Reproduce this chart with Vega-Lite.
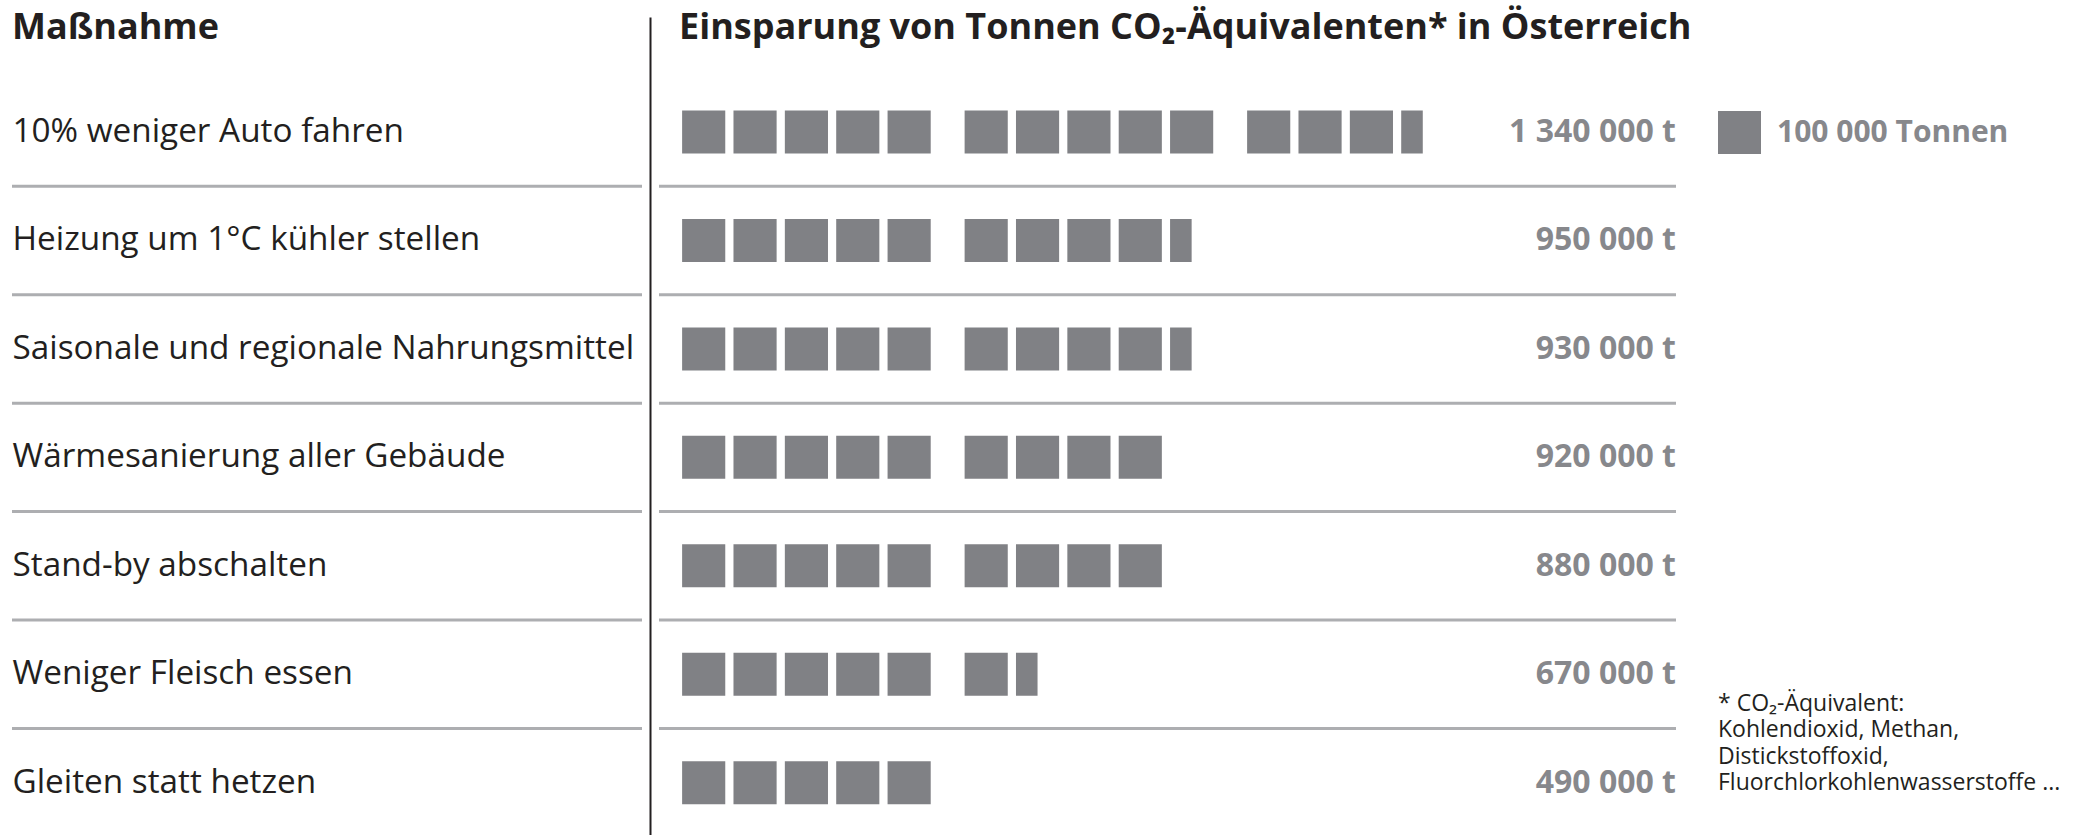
{
  "$schema": "https://vega.github.io/schema/vega-lite/v6.json",
  "background": "white",
  "padding": {"left": 10, "top": 9, "right": 0, "bottom": 0},
  "bounds": "flush",
  "spacing": 17,
  "datasets": {
    "massnahmen": [
      {"massnahme": "10% weniger Auto fahren", "tonnen": 1340000},
      {"massnahme": "Heizung um 1°C kühler stellen", "tonnen": 950000},
      {"massnahme": "Saisonale und regionale Nahrungsmittel", "tonnen": 930000},
      {"massnahme": "Wärmesanierung aller Gebäude", "tonnen": 920000},
      {"massnahme": "Stand-by abschalten", "tonnen": 880000},
      {"massnahme": "Weniger Fleisch essen", "tonnen": 670000},
      {"massnahme": "Gleiten statt hetzen", "tonnen": 490000}
    ],
    "felder": [
      {"massnahme": "10% weniger Auto fahren", "nr": 0, "anteil": 1},
      {"massnahme": "10% weniger Auto fahren", "nr": 1, "anteil": 1},
      {"massnahme": "10% weniger Auto fahren", "nr": 2, "anteil": 1},
      {"massnahme": "10% weniger Auto fahren", "nr": 3, "anteil": 1},
      {"massnahme": "10% weniger Auto fahren", "nr": 4, "anteil": 1},
      {"massnahme": "10% weniger Auto fahren", "nr": 5, "anteil": 1},
      {"massnahme": "10% weniger Auto fahren", "nr": 6, "anteil": 1},
      {"massnahme": "10% weniger Auto fahren", "nr": 7, "anteil": 1},
      {"massnahme": "10% weniger Auto fahren", "nr": 8, "anteil": 1},
      {"massnahme": "10% weniger Auto fahren", "nr": 9, "anteil": 1},
      {"massnahme": "10% weniger Auto fahren", "nr": 10, "anteil": 1},
      {"massnahme": "10% weniger Auto fahren", "nr": 11, "anteil": 1},
      {"massnahme": "10% weniger Auto fahren", "nr": 12, "anteil": 1},
      {"massnahme": "10% weniger Auto fahren", "nr": 13, "anteil": 0.5},
      {"massnahme": "Heizung um 1°C kühler stellen", "nr": 0, "anteil": 1},
      {"massnahme": "Heizung um 1°C kühler stellen", "nr": 1, "anteil": 1},
      {"massnahme": "Heizung um 1°C kühler stellen", "nr": 2, "anteil": 1},
      {"massnahme": "Heizung um 1°C kühler stellen", "nr": 3, "anteil": 1},
      {"massnahme": "Heizung um 1°C kühler stellen", "nr": 4, "anteil": 1},
      {"massnahme": "Heizung um 1°C kühler stellen", "nr": 5, "anteil": 1},
      {"massnahme": "Heizung um 1°C kühler stellen", "nr": 6, "anteil": 1},
      {"massnahme": "Heizung um 1°C kühler stellen", "nr": 7, "anteil": 1},
      {"massnahme": "Heizung um 1°C kühler stellen", "nr": 8, "anteil": 1},
      {"massnahme": "Heizung um 1°C kühler stellen", "nr": 9, "anteil": 0.5},
      {"massnahme": "Saisonale und regionale Nahrungsmittel", "nr": 0, "anteil": 1},
      {"massnahme": "Saisonale und regionale Nahrungsmittel", "nr": 1, "anteil": 1},
      {"massnahme": "Saisonale und regionale Nahrungsmittel", "nr": 2, "anteil": 1},
      {"massnahme": "Saisonale und regionale Nahrungsmittel", "nr": 3, "anteil": 1},
      {"massnahme": "Saisonale und regionale Nahrungsmittel", "nr": 4, "anteil": 1},
      {"massnahme": "Saisonale und regionale Nahrungsmittel", "nr": 5, "anteil": 1},
      {"massnahme": "Saisonale und regionale Nahrungsmittel", "nr": 6, "anteil": 1},
      {"massnahme": "Saisonale und regionale Nahrungsmittel", "nr": 7, "anteil": 1},
      {"massnahme": "Saisonale und regionale Nahrungsmittel", "nr": 8, "anteil": 1},
      {"massnahme": "Saisonale und regionale Nahrungsmittel", "nr": 9, "anteil": 0.5},
      {"massnahme": "Wärmesanierung aller Gebäude", "nr": 0, "anteil": 1},
      {"massnahme": "Wärmesanierung aller Gebäude", "nr": 1, "anteil": 1},
      {"massnahme": "Wärmesanierung aller Gebäude", "nr": 2, "anteil": 1},
      {"massnahme": "Wärmesanierung aller Gebäude", "nr": 3, "anteil": 1},
      {"massnahme": "Wärmesanierung aller Gebäude", "nr": 4, "anteil": 1},
      {"massnahme": "Wärmesanierung aller Gebäude", "nr": 5, "anteil": 1},
      {"massnahme": "Wärmesanierung aller Gebäude", "nr": 6, "anteil": 1},
      {"massnahme": "Wärmesanierung aller Gebäude", "nr": 7, "anteil": 1},
      {"massnahme": "Wärmesanierung aller Gebäude", "nr": 8, "anteil": 1},
      {"massnahme": "Stand-by abschalten", "nr": 0, "anteil": 1},
      {"massnahme": "Stand-by abschalten", "nr": 1, "anteil": 1},
      {"massnahme": "Stand-by abschalten", "nr": 2, "anteil": 1},
      {"massnahme": "Stand-by abschalten", "nr": 3, "anteil": 1},
      {"massnahme": "Stand-by abschalten", "nr": 4, "anteil": 1},
      {"massnahme": "Stand-by abschalten", "nr": 5, "anteil": 1},
      {"massnahme": "Stand-by abschalten", "nr": 6, "anteil": 1},
      {"massnahme": "Stand-by abschalten", "nr": 7, "anteil": 1},
      {"massnahme": "Stand-by abschalten", "nr": 8, "anteil": 1},
      {"massnahme": "Weniger Fleisch essen", "nr": 0, "anteil": 1},
      {"massnahme": "Weniger Fleisch essen", "nr": 1, "anteil": 1},
      {"massnahme": "Weniger Fleisch essen", "nr": 2, "anteil": 1},
      {"massnahme": "Weniger Fleisch essen", "nr": 3, "anteil": 1},
      {"massnahme": "Weniger Fleisch essen", "nr": 4, "anteil": 1},
      {"massnahme": "Weniger Fleisch essen", "nr": 5, "anteil": 1},
      {"massnahme": "Weniger Fleisch essen", "nr": 6, "anteil": 0.5},
      {"massnahme": "Gleiten statt hetzen", "nr": 0, "anteil": 1},
      {"massnahme": "Gleiten statt hetzen", "nr": 1, "anteil": 1},
      {"massnahme": "Gleiten statt hetzen", "nr": 2, "anteil": 1},
      {"massnahme": "Gleiten statt hetzen", "nr": 3, "anteil": 1},
      {"massnahme": "Gleiten statt hetzen", "nr": 4, "anteil": 1}
    ],
    "fussnote": [
      {"text": "* CO₂-Äquivalent:\nKohlendioxid, Methan,\nDistickstoffoxid,\nFluorchlorkohlenwasserstoffe ..."}
    ]
  },
  "hconcat": [
    {
      "width": 630,
      "height": 820,
      "title": {"text": "Maßnahme"},
      "data": {"name": "massnahmen"},
      "transform": [{"filter": "datum.massnahme !== 'Gleiten statt hetzen'"}],
      "mark": {"type": "rule", "color": "#adaeb1", "strokeWidth": 3},
      "encoding": {
        "y": {
          "field": "massnahme",
          "type": "nominal",
          "bandPosition": 1,
          "scale": {
            "type": "band",
            "domain": ["10% weniger Auto fahren", "Heizung um 1°C kühler stellen", "Saisonale und regionale Nahrungsmittel", "Wärmesanierung aller Gebäude", "Stand-by abschalten", "Weniger Fleisch essen", "Gleiten statt hetzen"],
            "paddingInner": 0,
            "paddingOuter": 0.28,
            "align": 1
          },
          "axis": {
            "orient": "left",
            "title": null,
            "domain": false,
            "ticks": false,
            "tickSize": 0,
            "labelPadding": 0,
            "labelAlign": "left",
            "labelBaseline": "middle",
            "labelFont": "Open Sans",
            "labelFontSize": 33.3,
            "labelColor": "#231f20",
            "labelLimit": 800,
            "grid": false
          }
        }
      }
    },
    {
      "width": 1017,
      "height": 820,
      "title": {"text": "Einsparung von Tonnen CO₂-Äquivalenten* in Österreich", "dx": 20},
      "layer": [
        {
          "data": {"name": "massnahmen"},
          "transform": [{"filter": "datum.massnahme !== 'Gleiten statt hetzen'"}],
          "mark": {"type": "rule", "color": "#adaeb1", "strokeWidth": 3},
          "encoding": {
            "y": {
              "field": "massnahme",
              "type": "nominal",
              "bandPosition": 1,
              "scale": {
                "type": "band",
                "domain": ["10% weniger Auto fahren", "Heizung um 1°C kühler stellen", "Saisonale und regionale Nahrungsmittel", "Wärmesanierung aller Gebäude", "Stand-by abschalten", "Weniger Fleisch essen", "Gleiten statt hetzen"],
                "paddingInner": 0,
                "paddingOuter": 0.28,
                "align": 1
              },
              "axis": {"orient": "left", "title": null, "labels": false, "ticks": false, "domain": true, "domainColor": "#231f20", "domainWidth": 2, "offset": 9, "grid": false}
            }
          }
        },
        {
          "data": {"name": "felder"},
          "transform": [
            {"calculate": "datum.nr + 0.5 * floor(datum.nr / 5)", "as": "start"},
            {"calculate": "datum.start + 0.84 * datum.anteil", "as": "ende"}
          ],
          "mark": {"type": "bar", "height": 43},
          "encoding": {
            "y": {
              "field": "massnahme",
              "type": "nominal",
              "axis": {"orient": "left", "title": null, "labels": false, "ticks": false, "domain": true, "domainColor": "#231f20", "domainWidth": 2, "offset": 9, "grid": false}
            },
            "x": {"field": "start", "type": "quantitative", "scale": {"domain": [-0.45, 19.35], "nice": false, "zero": false}, "axis": null},
            "x2": {"field": "ende"},
            "color": {
              "datum": "100 000 Tonnen",
              "type": "nominal",
              "scale": {"range": ["#808185"]},
              "legend": {
                "orient": "none",
                "legendX": 1706,
                "legendY": 94,
                "title": null,
                "padding": 0,
                "symbolType": "square",
                "symbolSize": 1849,
                "symbolStrokeWidth": 0,
                "symbolOpacity": 1,
                "labelFont": "Open Sans",
                "labelFontWeight": "bold",
                "labelFontSize": 30,
                "labelColor": "#87888c",
                "labelOffset": 16,
                "labelLimit": 400
              }
            }
          }
        },
        {
          "data": {"name": "massnahmen"},
          "transform": [
            {"calculate": "replace(format(datum.tonnen, ','), regexp(',', 'g'), ' ') + ' t'", "as": "beschriftung"}
          ],
          "mark": {"type": "text", "align": "right", "baseline": "middle", "font": "Open Sans", "fontWeight": "bold", "fontSize": 32, "color": "#87888c"},
          "encoding": {
            "y": {
              "field": "massnahme",
              "type": "nominal",
              "axis": {"orient": "left", "title": null, "labels": false, "ticks": false, "domain": true, "domainColor": "#231f20", "domainWidth": 2, "offset": 9, "grid": false}
            },
            "x": {"value": "width"},
            "text": {"field": "beschriftung"}
          }
        },
        {
          "data": {"name": "fussnote"},
          "mark": {"type": "text", "align": "left", "baseline": "middle", "dx": 42, "dy": -79, "lineBreak": "\n", "lineHeight": 26.5, "font": "Open Sans", "fontSize": 23, "color": "#231f20"},
          "encoding": {
            "y": {
              "datum": "Gleiten statt hetzen",
              "type": "nominal",
              "axis": {"orient": "left", "title": null, "labels": false, "ticks": false, "domain": true, "domainColor": "#231f20", "domainWidth": 2, "offset": 9, "grid": false}
            },
            "x": {"value": "width"},
            "text": {"field": "text"}
          }
        }
      ]
    }
  ],
  "config": {
    "view": {"stroke": null},
    "font": "Open Sans",
    "title": {"anchor": "start", "frame": "group", "font": "Open Sans", "fontSize": 36, "fontWeight": "bold", "color": "#231f20", "baseline": "alphabetic", "offset": -29.6}
  }
}
